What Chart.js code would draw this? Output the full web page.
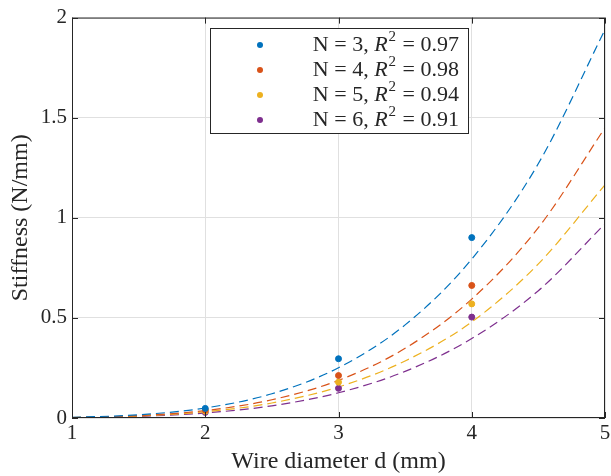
<!DOCTYPE html>
<html lang="en">
<head>
<meta charset="UTF-8">
<title>Stiffness vs wire diameter</title>
<script src="https://cdn.jsdelivr.net/npm/chart.js"></script>
<style>
  html, body { margin: 0; padding: 0; background: #fff; }
  #wrap { width: 611px; height: 476px; }
</style>
</head>
<body>
<div id="wrap"><canvas id="myCanvas" width="611" height="476"></canvas></div>
<script>
// measured points
const diameters = [2, 3, 4];
const stiffN3 = [0.048, 0.296, 0.901];
const stiffN4 = [0.040, 0.212, 0.662];
const stiffN5 = [0.034, 0.179, 0.570];
const stiffN6 = [0.028, 0.148, 0.504];

// fitted curves
const fitX = [1, 1.5, 2, 2.5, 3, 3.5, 4, 4.5, 5];
const fitN3 = [0.003, 0.016, 0.050, 0.121, 0.251, 0.465, 0.794, 1.271, 1.94];
const fitN4 = [0.002, 0.012, 0.037, 0.091, 0.188, 0.348, 0.594, 0.951, 1.45];
const fitN5 = [0.002, 0.010, 0.031, 0.075, 0.155, 0.285, 0.480, 0.770, 1.165];
const fitN6 = [0.0016, 0.008, 0.025, 0.061, 0.126, 0.233, 0.397, 0.636, 0.97];

const springN = [3, 4, 5, 6];
const rSquared = ["0.97", "0.98", "0.94", "0.91"];
const xTicks = [1, 2, 3, 4, 5];
const yTicks = [0, 0.5, 1, 1.5, 2];

const cores = ["#0072BD", "#D95319", "#EDB120", "#7E2F8E"];
const pontos = [stiffN3, stiffN4, stiffN5, stiffN6];
const ajustes = [fitN3, fitN4, fitN5, fitN6];
const fonte = "'Liberation Serif', 'DejaVu Serif', serif";

let datasets = [];
for (let i = 0; i < 4; i++) {
  datasets.push({
    label: "N = " + springN[i],
    data: diameters.map((d, k) => ({ x: d, y: pontos[i][k] })),
    backgroundColor: cores[i],
    borderColor: cores[i],
    pointRadius: 3,
    showLine: false
  });
}
for (let i = 0; i < 4; i++) {
  datasets.push({
    label: "fit N = " + springN[i],
    data: fitX.map((d, k) => ({ x: d, y: ajustes[i][k] })),
    borderColor: cores[i],
    borderWidth: 1.2,
    borderDash: [9, 5],
    pointRadius: 0,
    showLine: true,
    cubicInterpolationMode: "monotone",
    fill: false
  });
}

// box, inward ticks and the legend
const extras = {
  id: "extras",
  afterDraw(chart) {
    const ctx = chart.ctx;
    const a = chart.chartArea;
    const sx = chart.scales.x, sy = chart.scales.y;
    ctx.save();
    ctx.strokeStyle = "#262626";
    ctx.lineWidth = 1;
    ctx.strokeRect(a.left + 0.5, a.top + 0.5, a.right - a.left - 1, a.bottom - a.top - 1);
    ctx.beginPath();
    xTicks.forEach(t => {
      const px = Math.round(sx.getPixelForValue(t)) + 0.5;
      ctx.moveTo(px, a.bottom); ctx.lineTo(px, a.bottom - 6);
      ctx.moveTo(px, a.top); ctx.lineTo(px, a.top + 6);
    });
    yTicks.forEach(t => {
      const py = Math.round(sy.getPixelForValue(t)) + 0.5;
      ctx.moveTo(a.left, py); ctx.lineTo(a.left + 6, py);
      ctx.moveTo(a.right, py); ctx.lineTo(a.right - 6, py);
    });
    ctx.stroke();

    // legend
    const lx = 210, ly = 28, lw = 258, lh = 105;
    ctx.fillStyle = "#fff";
    ctx.fillRect(lx, ly, lw, lh);
    ctx.strokeStyle = "#262626";
    ctx.strokeRect(lx + 0.5, ly + 0.5, lw, lh);
    for (let i = 0; i < 4; i++) {
      const cy = ly + 17 + i * 25;
      ctx.fillStyle = cores[i];
      ctx.beginPath();
      ctx.arc(260, cy, 3, 0, Math.PI * 2);
      ctx.fill();
      ctx.fillStyle = "#262626";
      ctx.textBaseline = "middle";
      ctx.textAlign = "left";
      const p1 = "N = " + springN[i] + ", ";
      const p3 = " = " + rSquared[i];
      ctx.font = "22px " + fonte;
      const w1 = ctx.measureText(p1).width, w3 = ctx.measureText(p3).width;
      ctx.font = "italic 22px " + fonte;
      const wR = ctx.measureText("R").width;
      ctx.font = "15px " + fonte;
      const w2 = ctx.measureText("2").width + 2;
      let x = 459 - (w1 + wR + w2 + w3);
      ctx.font = "22px " + fonte;
      ctx.fillText(p1, x, cy);
      x += w1;
      ctx.font = "italic 22px " + fonte;
      ctx.fillText("R", x, cy);
      x += wR;
      ctx.font = "15px " + fonte;
      ctx.fillText("2", x + 1, cy - 8);
      x += w2;
      ctx.font = "22px " + fonte;
      ctx.fillText(p3, x, cy);
    }
    ctx.restore();
  }
};

const config = {
  type: "scatter",
  data: { datasets: datasets },
  options: {
    responsive: false,
    animation: false,
    layout: { padding: { top: 12, right: 0, left: 0, bottom: 0 } },
    plugins: { legend: { display: false }, tooltip: { enabled: false } },
    scales: {
      x: {
        type: "linear",
        min: 1, max: 5,
        afterBuildTicks: s => { s.ticks = xTicks.map(v => ({ value: v })); },
        ticks: { color: "#262626", padding: 3, font: { family: fonte, size: 21 }, callback: v => String(v) },
        grid: { color: "#e0e0e0", drawTicks: false },
        border: { display: false },
        title: { display: true, text: "Wire diameter d (mm)", color: "#262626", padding: { top: 0, bottom: 0 }, font: { family: fonte, size: 24 } },
        afterFit: s => { s.height = 58; s.paddingRight = 6; }
      },
      y: {
        min: 0, max: 2,
        afterBuildTicks: s => { s.ticks = yTicks.map(v => ({ value: v })); },
        ticks: { color: "#262626", padding: 5, font: { family: fonte, size: 21 }, callback: v => String(v) },
        grid: { color: "#e0e0e0", drawTicks: false },
        border: { display: false },
        title: { display: true, text: "Stiffness (N/mm)", color: "#262626", padding: { top: 6, bottom: 0 }, font: { family: fonte, size: 24 } },
        afterFit: s => { s.width = 72; }
      }
    }
  },
  plugins: [extras]
};

new Chart(document.getElementById("myCanvas"), config);
</script>
</body>
</html>
